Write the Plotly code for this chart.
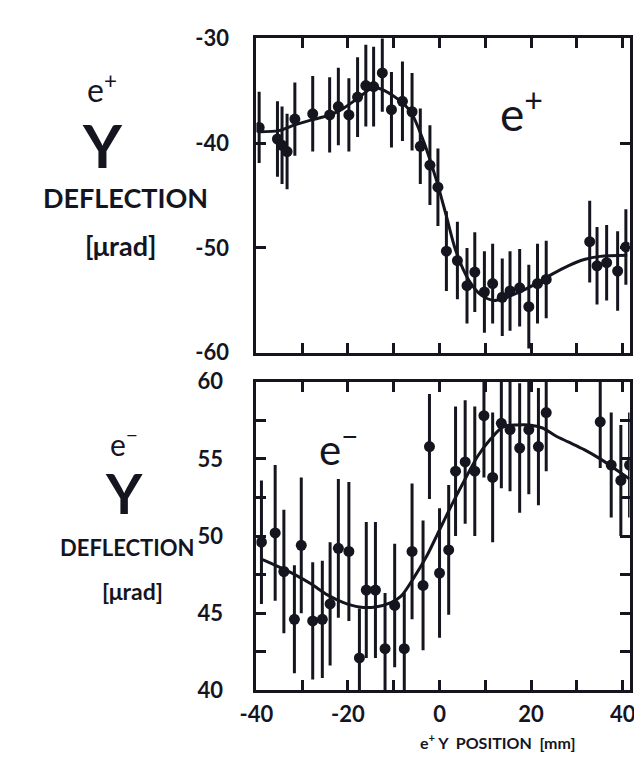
import plotly.graph_objects as go

# ---- data ----
x_top = [-39.4, -35.4, -34.4, -33.3, -31.6, -27.7, -24.0, -22.1, -19.8, -17.9, -16.1, -14.4,
         -12.5, -10.5, -8.1, -6.0, -4.2, -2.1, -0.35, 1.5, 3.9, 6.0, 7.7, 9.8, 11.6, 13.7,
         15.4, 17.5, 19.5, 21.4, 23.3, 32.8, 34.4, 36.5, 38.9, 40.7]
y_top = [-38.5, -39.6, -40.2, -40.8, -37.7, -37.2, -37.3, -36.5, -37.3, -35.6, -34.5, -34.6,
         -33.3, -36.8, -36.0, -37.0, -40.3, -42.1, -44.2, -50.3, -51.2, -53.6, -52.3, -54.2,
         -53.4, -54.7, -54.1, -53.8, -55.6, -53.4, -53.0, -49.4, -51.7, -51.4, -52.2, -49.9]
e_top = [3.4, 3.6, 3.7, 3.6, 3.5, 3.6, 3.6, 3.7, 3.5, 3.8, 3.9, 3.8,
         3.7, 3.6, 3.8, 3.7, 3.6, 3.8, 3.7, 3.8, 3.7, 3.6, 3.8, 3.9,
         3.8, 3.7, 3.8, 3.7, 4.0, 3.8, 3.7, 3.9, 3.7, 3.6, 3.8, 3.6]

fit_top_x = [-39.3, -35.1, -31.6, -28.1, -23.9, -21.1, -17.5, -15.4, -14.0, -11.9, -9.1, -6.3,
             -3.5, -0.7, 1.4, 3.5, 6.3, 9.1, 11.9, 14.0, 17.5, 21.1, 24.6, 28.1, 31.6, 35.1, 41.0]
fit_top_y = [-38.9, -38.8, -38.25, -37.8, -37.3, -36.7, -35.6, -34.9, -34.7, -35.0, -35.8, -37.0,
             -39.8, -43.5, -46.8, -50.2, -53.0, -54.5, -55.0, -54.8, -54.2, -53.4, -52.5, -51.7,
             -51.1, -50.8, -50.7]

x_bot = [-38.9, -35.9, -34.0, -31.7, -30.2, -27.7, -25.6, -23.9, -22.1, -19.8, -17.5, -16.0,
         -14.0, -11.9, -9.8, -7.7, -6.0, -3.6, -2.2, 0.0, 2.0, 3.5, 5.6, 7.7, 9.7, 11.6,
         13.5, 15.4, 17.5, 19.5, 21.6, 23.3, 35.1, 37.5, 39.6, 41.5]
y_bot = [49.6, 50.2, 47.7, 44.6, 49.4, 44.5, 44.6, 45.6, 49.2, 49.0, 42.1, 46.5,
         46.5, 42.7, 45.5, 42.7, 49.0, 46.8, 55.8, 47.6, 49.1, 54.2, 54.8, 54.2, 57.8, 53.8,
         57.3, 56.9, 55.7, 56.9, 55.8, 58.0, 57.4, 54.6, 53.6, 54.6]
e_bot = [4.0, 4.4, 4.0, 3.5, 4.4, 3.8, 3.8, 4.0, 4.5, 4.5, 3.2, 4.4,
         4.4, 3.6, 4.0, 3.6, 4.4, 4.2, 3.4, 4.2, 4.2, 4.2, 4.0, 4.2, 4.0, 4.2,
         4.2, 4.0, 4.2, 4.2, 3.8, 3.8, 3.0, 3.4, 3.6, 3.4]

fit_bot_x = [-38.9, -35.1, -31.6, -28.1, -24.6, -21.1, -17.5, -14.0, -10.5, -8.4, -5.6, -2.8,
             0.0, 2.8, 5.6, 8.4, 11.2, 14.0, 16.8, 19.6, 22.5, 25.3, 28.1, 31.6, 35.1, 38.6, 41.5]
fit_bot_y = [48.5, 48.0, 47.5, 46.9, 46.2, 45.7, 45.4, 45.4, 45.7, 46.1, 47.3, 48.7,
             50.4, 52.1, 53.7, 55.2, 56.3, 57.1, 57.2, 57.2, 57.0, 56.5, 56.1, 55.6, 55.0, 54.3, 53.7]

x_major = [-40, -20, 0, 20, 40]
x_major_text = ["-40", "-20", "0", "20", "40"]
x_minor = [-40, -30, -20, -10, 0, 10, 20, 30, 40]
y_top_ticks = [-60, -50, -40, -30]
y_top_tick_text = ["-60", "-50", "-40", "-30"]
y_bot_major = [40, 45, 50, 55, 60]
y_bot_major_text = ["40", "45", "50", "55", "60"]
y_bot_minor = [40, 42.5, 45, 47.5, 50, 52.5, 55, 57.5, 60]

INK = "#15151f"
FONT = "Lato"
W, H = 642, 758

fig = go.Figure()

def add_panel(xs, ys, es, fx, fy, xa, ya):
    fig.add_trace(go.Scatter(
        x=fx, y=fy, mode="lines", line=dict(color=INK, width=3, shape="spline", smoothing=0.8),
        xaxis=xa, yaxis=ya, showlegend=False, hoverinfo="skip"))
    fig.add_trace(go.Scatter(
        x=xs, y=ys, mode="markers",
        marker=dict(color=INK, size=11),
        error_y=dict(type="data", array=es, visible=True, color=INK, thickness=3, width=0),
        xaxis=xa, yaxis=ya, showlegend=False))

add_panel(x_top, y_top, e_top, fit_top_x, fit_top_y, "x", "y")
add_panel(x_bot, y_bot, e_bot, fit_bot_x, fit_bot_y, "x2", "y2")

xdom = [240 / W, 627 / W]
ydom_top = [1 - 343 / H, 1 - 17 / H]
ydom_bot = [1 - 693 / H, 1 - 373 / H]

tick_style = dict(ticks="inside", ticklen=10, tickwidth=3, tickcolor=INK)
axis_common = dict(showline=True, linecolor=INK, linewidth=3, mirror="ticks",
                   showgrid=False, zeroline=False,
                   tickfont=dict(family=FONT, size=22, color=INK, weight="bold"),
                   **tick_style)

fig.update_layout(
    width=W, height=H,
    margin=dict(l=0, r=0, t=0, b=0),
    paper_bgcolor="white", plot_bgcolor="white",
    xaxis=dict(domain=xdom, range=[-40, 41.5], anchor="y", tickvals=x_minor,
               showticklabels=False, **axis_common),
    yaxis=dict(domain=ydom_top, range=[-60, -30], anchor="x", tickvals=y_top_ticks,
               ticktext=y_top_tick_text, ticklabelstandoff=20, **axis_common),
    xaxis2=dict(domain=xdom, range=[-40, 41.5], anchor="y2", tickvals=x_major,
                ticktext=x_major_text, ticklabelstandoff=2,
                minor=dict(tickvals=x_minor, showgrid=False, **tick_style), **axis_common),
    yaxis2=dict(domain=ydom_bot, range=[40, 60], anchor="x2", tickvals=y_bot_major,
                ticktext=y_bot_major_text, ticklabelstandoff=26,
                minor=dict(tickvals=y_bot_minor, showgrid=False, **tick_style), **axis_common),
)

def ann(text, x, y, size, bold=False):
    fig.add_annotation(x=x / W, y=1 - y / H, xref="paper", yref="paper",
                       text=text, showarrow=False,
                       font=dict(family=FONT, size=size, color=INK,
                                 weight="bold" if bold else "normal"),
                       xanchor="center", yanchor="middle")

# left-hand labels, upper panel
ann("e<sup>+</sup>", 80, 68, 32)
ann("Y", 80, 128, 60, bold=True)
ann("DEFLECTION", 104, 182, 27, bold=True)
ann("[μrad]", 100, 232, 27, bold=True)
# left-hand labels, lower panel
ann("e<sup>−</sup>", 103, 435, 30)
ann("Y", 103, 488, 56, bold=True)
ann("DEFLECTION", 106, 545, 22, bold=True)
ann("[μrad]", 112, 590, 23, bold=True)
# in-panel labels
ann("e<sup>+</sup>", 515, 92, 46)
ann("e<sup>−</sup>", 325, 440, 42)
# x-axis title
ann("e<sup>+</sup> Y  POSITION  [mm]", 490, 746, 16, bold=True)

fig.write_html("out.html")
